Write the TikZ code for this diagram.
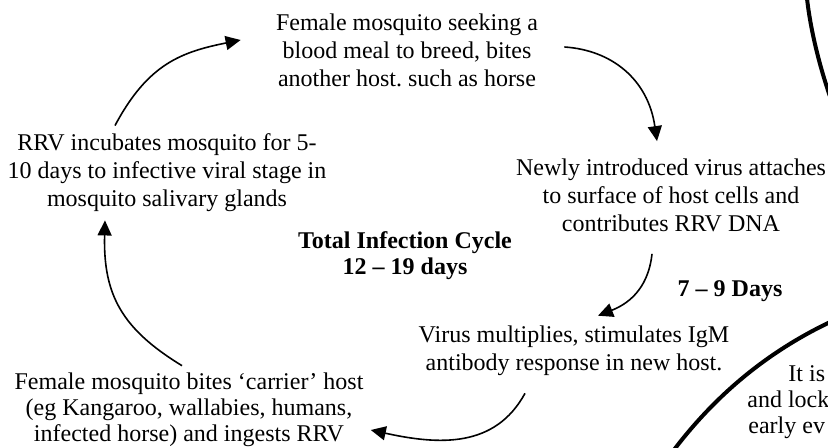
\documentclass[tikz,border=0pt]{standalone}
\usepackage{fontspec}
\setmainfont{Liberation Serif}
\usetikzlibrary{arrows.meta}
\frenchspacing

\begin{document}
\begin{tikzpicture}[x=0.5pt,y=-0.5pt,>={Triangle[length=7.5pt,width=7pt]},
 every node/.style={font=\fontsize{12}{14}\selectfont},
 stage/.style={align=center,inner sep=0pt},
 tag/.style={font=\fontsize{12}{13}\selectfont\bfseries,align=center,inner sep=0pt},
 flow/.style={->,line width=0.8pt},
 rim/.style={line width=2pt}]
\clip (0,0) rectangle (828,448);
\node[stage] (seek) at (407,50) {Female mosquito seeking a\\blood meal to breed, bites\\another host. such as horse};
\node[stage] (rrv) at (167,173) {RRV incubates mosquito for 5-\\10 days to infective viral stage in\\mosquito salivary glands};
\node[stage] (attach) at (671,195) {Newly introduced virus attaches\\to surface of host cells and\\contributes RRV DNA};
\node[tag] (total) at (405,256) {Total Infection Cycle\\12 -- 19 days};
\node[tag,anchor=base] (lag) at (730,297) {7 -- 9 Days};
\node[stage] (virus) at (574,351) {Virus multiplies, stimulates IgM\\antibody response in new host.};
\node[stage,font=\fontsize{12}{13}\selectfont] (carrier) at (189,410) {Female mosquito bites ‘carrier’ host\\(eg Kangaroo, wallabies, humans,\\infected horse) and ingests RRV};
% text in the circle, cut off at the edge
\node[anchor=base west,inner sep=0pt] (cut1) at (788,381) {It is};
\node[anchor=base west,inner sep=0pt] (cut2) at (747,407) {and lock};
\node[anchor=base west,inner sep=0pt] (cut3) at (748,433) {early ev};
\draw[rim] (806,-12) .. controls (809,28) and (822,78) .. (838,118);
\draw[rim] (848,314) .. controls (772.5,346) and (712.7,395.3) .. (665,462);
% the cycle
\draw[flow] ([shift={(-52,-8)}]rrv.north) .. controls +(33,-62) and +(-59,12) .. ([shift={(-35,-10)}]seek.west);
\draw[flow] ([shift={(26,-3)}]seek.east) .. controls +(47,3) and +(-9,-62) .. ([shift={(-14,-17)}]attach.north);
\draw[flow] ([shift={(-19,22)}]attach.south) .. controls +(-4,37) and +(28,-11) .. ([shift={(24,-10)}]virus.north);
\draw[flow] ([shift={(-49,17)}]virus.south) .. controls +(-30,55) and +(68,15) .. ([shift={(7,20)}]carrier.east);
\draw[flow] ([shift={(-7,-7)}]carrier.north) .. controls +(-59.5,-36.4) and +(-2,75) .. ([shift={(-62,8)}]rrv.south);
\end{tikzpicture}
\end{document}
